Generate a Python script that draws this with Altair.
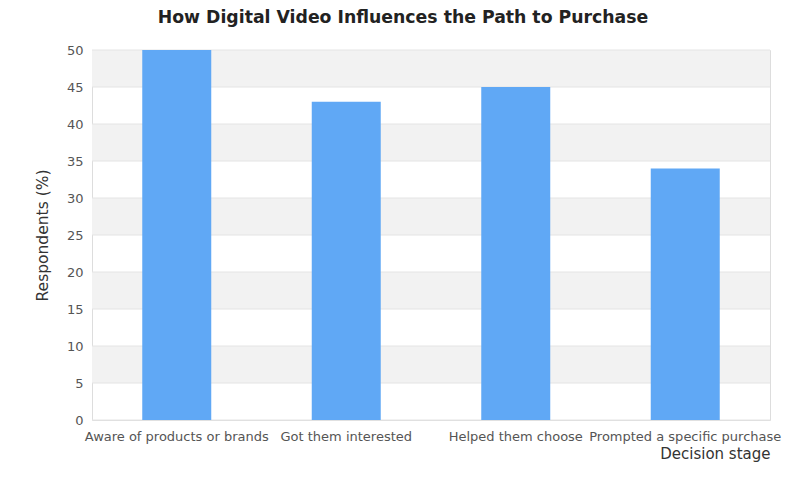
import altair as alt
import pandas as pd

stages = ["Aware of products or brands", "Got them interested", "Helped them choose", "Prompted a specific purchase"]
values = [50, 43, 45, 34]
band_lo = [5, 15, 25, 35, 45]
band_hi = [10, 20, 30, 40, 50]
grid_vals = [0, 5, 10, 15, 20, 25, 30, 35, 40, 45, 50]

df = pd.DataFrame({"stage": stages, "value": values})
bands = pd.DataFrame({"lo": band_lo, "hi": band_hi})
grid = pd.DataFrame({"g": grid_vals})

FONT = "DejaVu Sans"

yscale = alt.Scale(domain=[0, 50], nice=False)
yaxis = alt.Axis(values=grid_vals, ticks=False, domain=False, grid=False, labelFontSize=13,
                 labelColor="#555555", labelPadding=9, titleFontSize=15.5, titleFontWeight="normal",
                 titleColor="#333333", titlePadding=16, labelFont=FONT, titleFont=FONT,
                 labelOverlap=False)

bg = alt.Chart(bands).mark_rect(color="#f2f2f2").encode(
    y=alt.Y("lo:Q", scale=yscale, axis=yaxis, title="Respondents (%)"), y2="hi:Q"
)

rules = alt.Chart(grid).mark_rule(color="#e4e4e4", strokeWidth=1).encode(
    y=alt.Y("g:Q", scale=yscale, axis=yaxis, title="Respondents (%)")
)

bars = alt.Chart(df).mark_bar(color="#60a8f5", size=69).encode(
    x=alt.X("stage:N", sort=stages, title="Decision stage",
            scale=alt.Scale(paddingInner=0.59, paddingOuter=0.295),
            axis=alt.Axis(labelAngle=0, ticks=False, domain=False, labelFontSize=13,
                          labelColor="#555555", labelPadding=10, titleFontSize=15,
                          titleFontWeight="normal", titleColor="#333333", titleAnchor="end",
                          titlePadding=3, labelFont=FONT, titleFont=FONT, labelLimit=0,
                          labelOverlap=False)),
    y=alt.Y("value:Q", title="Respondents (%)", scale=yscale, axis=yaxis),
)

chart = alt.layer(bg, rules, bars).properties(
    width=678, height=370,
    title=alt.TitleParams("How Digital Video Influences the Path to Purchase", fontSize=17.3,
                          font=FONT, fontWeight="bold", color="#222222", anchor="middle",
                          dx=-28, offset=18),
    autosize=alt.AutoSizeParams(type="none"),
    padding={"left": 84, "top": 42, "right": 14, "bottom": 62},
).configure_view(stroke="#dddddd").configure(background="white")

chart.save("out.html", embed_options={"renderer": "svg", "actions": False})
